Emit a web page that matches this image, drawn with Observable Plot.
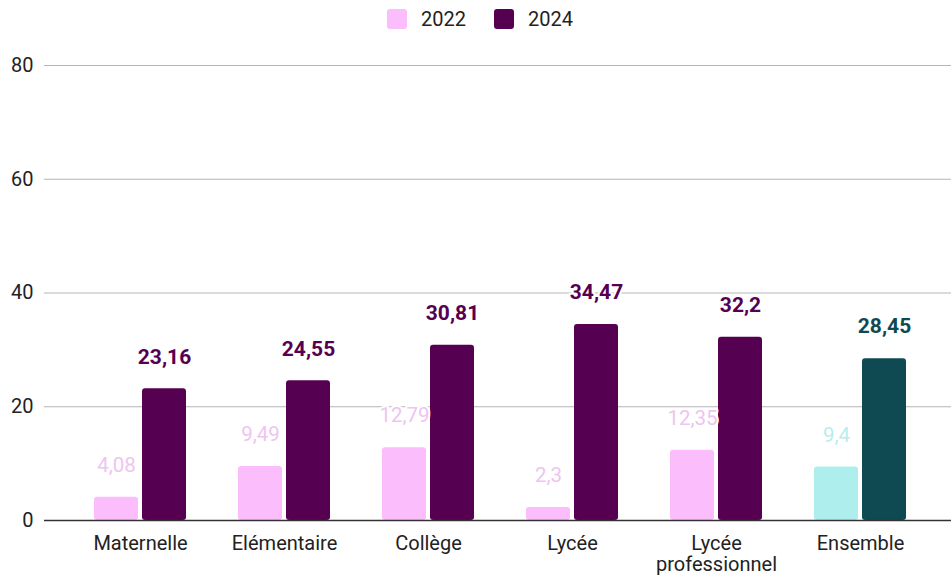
<!DOCTYPE html>
<html>
<head>
<meta charset="utf-8">
<script src="https://cdn.jsdelivr.net/npm/d3@7"></script>
<script src="https://cdn.jsdelivr.net/npm/@observablehq/plot@0.6"></script>
<style>
  body { margin: 0; background: #fff; font-family: Roboto, sans-serif; }
  #legend { position: relative; height: 40px; width: 951px; }
  .item { position: absolute; top: 9px; height: 20px; display: flex; align-items: center; font-size: 20px; color: #222; }
  .sw { width: 20px; height: 20px; border-radius: 3px; margin-right: 14px; }
</style>
</head>
<body>
<div id="legend">
  <div class="item" style="left:387px"><div class="sw" style="background:#fbbdfb"></div>2022</div>
  <div class="item" style="left:494px"><div class="sw" style="background:#560052"></div>2024</div>
</div>
<div id="chart"></div>
<script>
const categories = ["Maternelle", "Elémentaire", "Collège", "Lycée", "Lycée professionnel", "Ensemble"];
const values2022 = [4.08, 9.49, 12.79, 2.3, 12.35, 9.4];
const values2024 = [23.16, 24.55, 30.81, 34.47, 32.2, 28.45];
const yTicks = [0, 20, 40, 60, 80];

const d2022 = categories.map((c, i) => ({cat: c, year: "2022", value: values2022[i]}));
const d2024 = categories.map((c, i) => ({cat: c, year: "2024", value: values2024[i]}));

const barColor = d => d.cat === "Ensemble"
  ? (d.year === "2022" ? "#aeefee" : "#0f4a53")
  : (d.year === "2022" ? "#fbbdfb" : "#560052");
const labelColor = d => d.cat === "Ensemble"
  ? (d.year === "2022" ? "#b9ecec" : "#0f4a53")
  : (d.year === "2022" ? "#eec4f0" : "#560052");
const fmt = v => String(v).replace(".", ",");

const half = 48; // half of group width + gap
const chart = Plot.plot({
  width: 951,
  height: 536,
  marginLeft: 44,
  marginRight: 0,
  marginTop: 25,
  marginBottom: 56,
  style: {fontFamily: "Roboto, sans-serif", fontSize: "20px", color: "#222", background: "#fff", overflow: "visible"},
  x: {domain: categories, insetLeft: 24, insetRight: 18, paddingInner: 0.36, paddingOuter: 0.18},
  y: {domain: [0, 80], ticks: yTicks, label: null, tickSize: 0, tickPadding: 11},
  marks: [
    Plot.ruleY(yTicks.filter(t => t > 0), {stroke: "#b5b5b5", strokeWidth: 1}),
    Plot.axisX({tickSize: 0, tickPadding: 14, lineHeight: 1.08, label: null, fill: "#222",
      tickFormat: d => d === "Lycée professionnel" ? "Lycée\nprofessionnel" : d}),
    Plot.barY(d2022, {x: "cat", y: "value", fill: barColor, insetRight: half, rx: 3}),
    Plot.barY(d2024, {x: "cat", y: "value", fill: barColor, insetLeft: half, rx: 3}),
    Plot.ruleY([0], {stroke: "#333", strokeWidth: 1.5}),
    Plot.text(d2022, {x: "cat", y: "value", text: d => fmt(d.value), dx: -24, dy: -32,
      fill: labelColor, stroke: "white", strokeWidth: 4, fontSize: 20.5}),
    Plot.text(d2024, {x: "cat", y: "value", text: d => fmt(d.value), dx: 24, dy: -32,
      fill: labelColor, stroke: "white", strokeWidth: 4, fontSize: 21, fontWeight: "bold"})
  ]
});
document.getElementById("chart").appendChild(chart);
</script>
</body>
</html>
